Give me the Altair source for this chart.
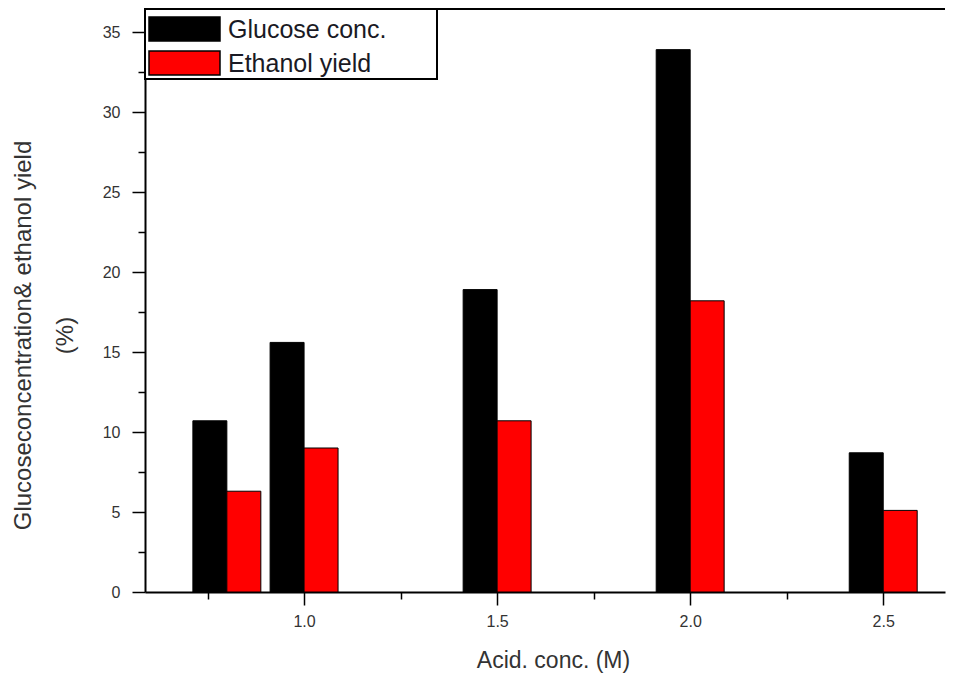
import altair as alt
import pandas as pd

# ---- data ----
acid = [0.8, 1.0, 1.5, 2.0, 2.5]
glucose = [10.7, 15.6, 18.9, 33.9, 8.7]
ethanol = [6.3, 9.0, 10.7, 18.2, 5.1]
series = ["Glucose conc.", "Ethanol yield"]
colors = ["#000000", "#ff0000"]
x_ticks = [0.75, 1.0, 1.25, 1.5, 1.75, 2.0, 2.25, 2.5]
y_ticks = [0, 2.5, 5, 7.5, 10, 12.5, 15, 17.5, 20, 22.5, 25, 27.5, 30, 32.5, 35]

BW = 0.088  # bar width in data units
W, H = 800, 583
FONT = "Liberation Sans"

rows = []
for a, g, e in zip(acid, glucose, ethanol):
    rows.append({"series": series[0], "x": a - BW, "x2": a, "value": g})
    rows.append({"series": series[1], "x": a, "x2": a + BW, "value": e})
df = pd.DataFrame(rows)

xscale = alt.Scale(domain=[0.588, 2.66], zero=False, nice=False)
yscale = alt.Scale(domain=[0, 36.44], nice=False, zero=True)

bars = alt.Chart(df).mark_bar(stroke="black", strokeWidth=1).encode(
    x=alt.X("x:Q", scale=xscale,
            axis=alt.Axis(
                values=x_ticks,
                title="Acid. conc. (M)",
                labelExpr="abs(datum.value*2 - round(datum.value*2)) < 0.001 ? format(datum.value, '.1f') : ''",
                tickSize={"condition": {"test": "abs(datum.value*2 - round(datum.value*2)) < 0.001", "value": 13}, "value": 7},
                labelPadding=8,
                labelOverlap=False,
                labelFlush=False,
                titleX=408, titleY=68, titleBaseline="middle",
                grid=False,
            )),
    x2="x2:Q",
    y=alt.Y("value:Q", scale=yscale,
            axis=alt.Axis(
                values=y_ticks,
                title=["Glucoseconcentration& ethanol yield", "(%)"],
                titleFontSize=24,
                labelExpr="datum.value % 5 === 0 ? datum.label : ''",
                tickSize={"condition": {"test": "datum.value % 5 === 0", "value": 13}, "value": 7},
                labelPadding=12,
                labelOverlap=False,
                labelFlush=False,
                titleX=-110, titleY=326, titleBaseline="bottom",
                titleLineHeight=42,
                grid=False,
            )),
    y2=alt.datum(0),
    color=alt.Color("series:N", scale=alt.Scale(domain=series, range=colors), legend=None),
)

top_line = alt.Chart(pd.DataFrame({"a": [0]})).mark_rule(color="black", strokeWidth=2).encode(
    x=alt.value(0), x2=alt.value(W), y=alt.value(0)
)

# manual legend (box, swatches, labels)
leg_box = alt.Chart(pd.DataFrame({"a": [0]})).mark_rect(
    fill="white", stroke="black", strokeWidth=2
).encode(x=alt.value(0), x2=alt.value(292), y=alt.value(0), y2=alt.value(70))

legend_layers = [leg_box]
for i, (s, c) in enumerate(zip(series, colors)):
    y0 = 8 + i * 34
    legend_layers.append(
        alt.Chart(pd.DataFrame({"s": [s]})).mark_rect(fill=c, stroke="black", strokeWidth=1.5).encode(
            x=alt.value(4), x2=alt.value(75), y=alt.value(y0), y2=alt.value(y0 + 24)
        )
    )
    legend_layers.append(
        alt.Chart(pd.DataFrame({"s": [s]})).mark_text(
            align="left", baseline="middle", font=FONT, fontSize=25, color="#1a1a24"
        ).encode(x=alt.value(83), y=alt.value(y0 + 13), text="s:N")
    )

chart = alt.layer(bars, top_line, *legend_layers).properties(
    width=W, height=H,
    autosize=alt.AutoSizeParams(type="none"),
    padding={"left": 137, "top": 1, "right": 2, "bottom": 81},
).configure_view(stroke=None).configure_axis(
    domainColor="black", domainWidth=2,
    tickColor="black", tickWidth=1.5,
    labelFont=FONT, labelFontSize=16, labelColor="#333333",
    titleFont=FONT, titleFontSize=23, titleFontWeight="normal", titleColor="#333333",
)

chart.save("out.html", embed_options={"renderer": "svg", "actions": False})
